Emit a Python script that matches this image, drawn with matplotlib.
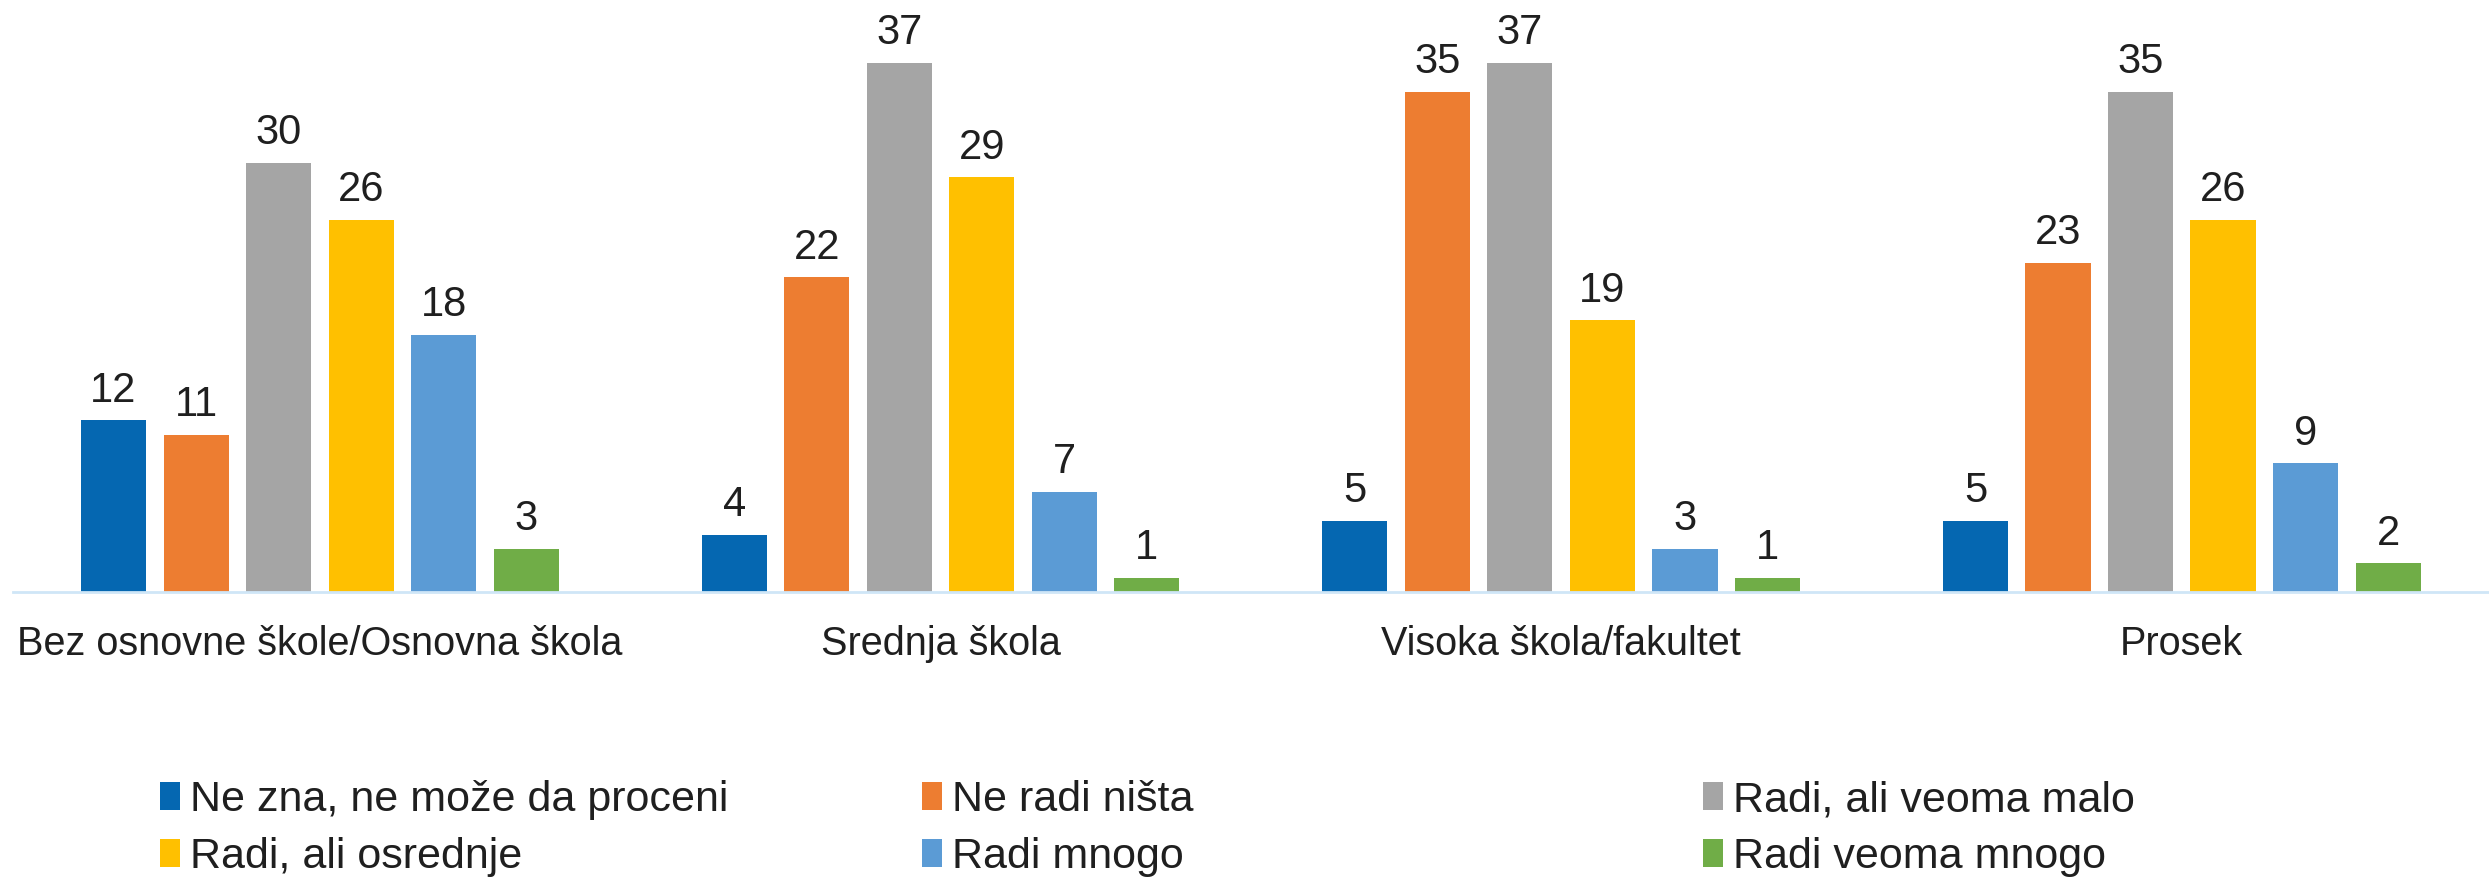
import matplotlib
matplotlib.use("Agg")
import matplotlib.pyplot as plt
import numpy as np
from matplotlib.patches import Patch

plt.rcParams['font.family'] = ['Liberation Sans', 'DejaVu Sans']

categories = ["Bez osnovne škole/Osnovna škola", "Srednja škola", "Visoka škola/fakultet", "Prosek"]
series_names = ["Ne zna, ne može da proceni", "Ne radi ništa", "Radi, ali veoma malo",
                "Radi, ali osrednje", "Radi mnogo", "Radi veoma mnogo"]
ne_zna = [12, 4, 5, 5]
ne_radi = [11, 22, 35, 23]
veoma_malo = [30, 37, 37, 35]
osrednje = [26, 29, 19, 26]
mnogo = [18, 7, 3, 9]
veoma_mnogo = [3, 1, 1, 2]
values = [ne_zna, ne_radi, veoma_malo, osrednje, mnogo, veoma_mnogo]
colors = ["#0567B1", "#ED7D31", "#A5A5A5", "#FFC000", "#5B9BD5", "#70AD47"]

fig = plt.figure(figsize=(24.89, 8.77), dpi=100)
ax = fig.add_axes([0.0051, 1 - 592 / 877, 0.9949, 592 / 877])

x = np.arange(len(categories))
pitch = 0.133
width = 0.105
text_color = "#1F1F1F"
for i, (vals, col) in enumerate(zip(values, colors)):
    b = ax.bar(x + (i - 2.5) * pitch, vals, width=width, color=col, label=series_names[i], zorder=2)
    ax.bar_label(b, labels=[str(v) for v in vals], padding=7, fontsize=30, color=text_color)

ax.set_xlim(-0.495, 3.495)
ax.set_ylim(0, 41.4)
for s in ["top", "right", "left"]:
    ax.spines[s].set_visible(False)
ax.spines["bottom"].set_color("#CFE6F7")
ax.spines["bottom"].set_linewidth(2)
ax.set_yticks([])
ax.set_xticks(x)
ax.set_xticklabels(categories, fontsize=28.5, color=text_color)
ax.tick_params(axis="x", length=0, pad=24)

# legend: three columns, two rows
col_x = [101 / 1568, 581 / 1568, 1073 / 1568]
for c in range(3):
    handles = [Patch(facecolor=colors[c]), Patch(facecolor=colors[c + 3])]
    labels = [series_names[c], series_names[c + 3]]
    fig.legend(handles, labels, loc="upper left", bbox_to_anchor=(col_x[c], 1 - 491 / 552),
               frameon=False, fontsize=31, handlelength=0.45, handleheight=0.6, handletextpad=0.25,
               labelspacing=0.4, borderaxespad=0, borderpad=0, labelcolor=text_color)

fig.savefig("out.png", dpi=100)
